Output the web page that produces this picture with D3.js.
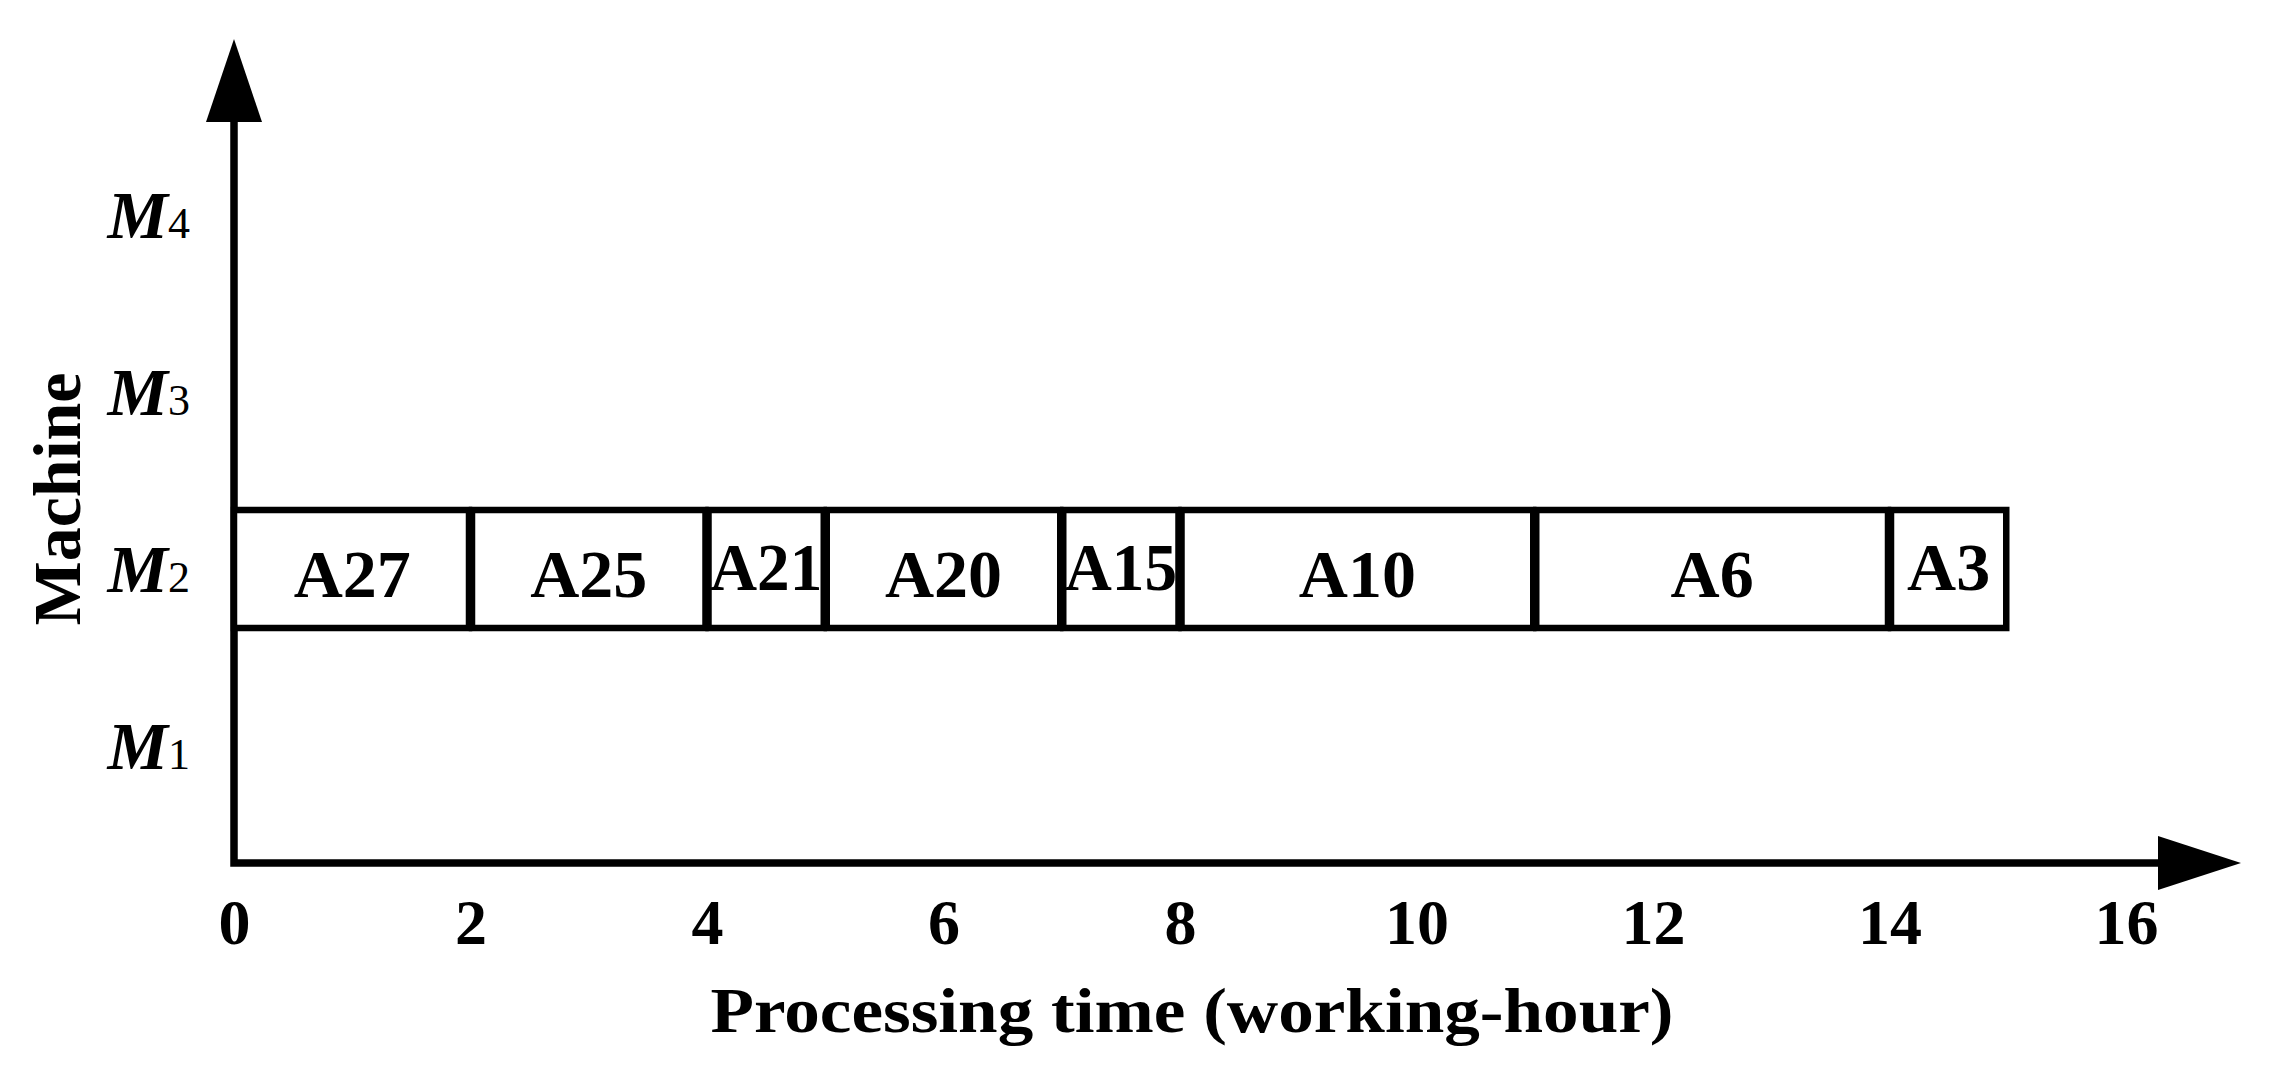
<!DOCTYPE html>
<html>
<head>
<meta charset="utf-8">
<script src="https://cdn.jsdelivr.net/npm/d3@7"></script>
<style>
  body { margin: 0; background: #fff; }
  svg { display: block; }
  text, tspan { font-family: "Liberation Serif", "Times New Roman", serif; fill: #000; }
</style>
</head>
<body>
<div id="chart"></div>
<script>
// data
let machines = ["M1", "M2", "M3", "M4"];
let jobs = ["A27", "A25", "A21", "A20", "A15", "A10", "A6", "A3"];
let jobMachine = ["M2", "M2", "M2", "M2", "M2", "M2", "M2", "M2"];
let jobStart = [0, 2, 4, 5, 7, 8, 11, 14];
let jobEnd = [2, 4, 5, 7, 8, 11, 14, 15];
let xTicks = [0, 2, 4, 6, 8, 10, 12, 14, 16];

let width = 2287,
    height = 1083;

let originY = 863;

let x = d3.scaleLinear().domain([0, 16]).range([234, 2126]);
let y = d3.scalePoint().domain(machines).range([746, 215]);

let barH = 118;

let svg = d3.select("#chart")
      .append("svg")
      .attr("width", width)
      .attr("height", height);

let tasks = jobs.map(function(d, i) {
  return { name: d, machine: jobMachine[i], start: jobStart[i], end: jobEnd[i] };
});

// axes lines + arrow heads
let originX = x(0);
let yTop = 122, yTip = 39;
let xRight = 2158, xTip = 2241;

svg.append("path")
    .attr("d", "M" + originX + "," + originY + "V" + yTop + "M" + originX + "," + originY + "H" + xRight)
    .style("fill", "none")
    .style("stroke", "#000")
    .style("stroke-width", 7.5)
    .style("stroke-linecap", "square");

svg.append("path")
    .attr("d", "M" + originX + "," + yTip + "L" + (originX - 28) + "," + yTop + "L" + (originX + 28) + "," + yTop + "Z")
    .style("fill", "#000");

svg.append("path")
    .attr("d", "M" + xTip + "," + originY + "L" + xRight + "," + (originY - 27) + "L" + xRight + "," + (originY + 27) + "Z")
    .style("fill", "#000");

// gantt boxes
let g = svg.selectAll(".task")
      .data(tasks)
      .enter().append("g")
      .attr("class", "task");

g.append("rect")
    .attr("x", function(d) { return x(d.start) + (d.start === 0 ? 0 : 1.5); })
    .attr("y", function(d) { return y(d.machine) - barH / 2; })
    .attr("width", function(d) { return x(d.end) - x(d.start) - (d.start === 0 ? 1.5 : 3); })
    .attr("height", barH)
    .style("fill", "#fff")
    .style("stroke", "#000")
    .style("stroke-width", 6.5);

g.append("text")
    .attr("x", function(d) { return (x(d.start) + x(d.end)) / 2; })
    .attr("y", function(d) { return y(d.machine) + (d.end - d.start === 1 ? 21 : 28); })
    .attr("text-anchor", "middle")
    .style("font-size", "68px")
    .style("font-weight", "bold")
    .text(function(d) { return d.name; })
    .each(function(d) {
      // squeeze labels that do not fit their box
      let w = x(d.end) - x(d.start) - 6;
      if (this.getComputedTextLength() > w) {
        d3.select(this).attr("textLength", w).attr("lengthAdjust", "spacingAndGlyphs");
      }
    });

// x tick labels
let xAxis = svg.append("g")
      .attr("transform", "translate(0," + 944 + ")")
      .call(d3.axisBottom(x).tickValues(xTicks).tickSize(0).tickFormat(d3.format("d")));
xAxis.select(".domain").remove();
xAxis.selectAll("text")
    .attr("y", 0)
    .attr("dy", 0)
    .attr("font-family", null)
    .style("font-size", "64px")
    .style("font-weight", "bold");

// y tick labels (M with subscript)
let yAxis = svg.append("g")
      .attr("transform", "translate(" + 190 + ",0)")
      .attr("font-family", null)
      .call(d3.axisLeft(y).tickSize(0).tickPadding(0));
yAxis.attr("font-family", null);
yAxis.select(".domain").remove();
yAxis.selectAll("text")
    .attr("x", 0)
    .attr("dy", 22)
    .attr("text-anchor", "end")
    .each(function(d) {
      let t = d3.select(this).text(null);
      t.append("tspan")
          .style("font-size", "68px")
          .style("font-style", "italic")
          .style("font-weight", "bold")
          .text(d.charAt(0));
      t.append("tspan")
          .style("font-size", "44px")
          .text(d.slice(1));
    });

// axis titles
svg.append("text")
    .attr("x", 1192)
    .attr("y", 1032)
    .attr("text-anchor", "middle")
    .attr("textLength", 963)
    .attr("lengthAdjust", "spacingAndGlyphs")
    .style("font-size", "64px")
    .style("font-weight", "bold")
    .text("Processing time (working-hour)");

svg.append("text")
    .attr("transform", "translate(80,499) rotate(-90)")
    .attr("text-anchor", "middle")
    .style("font-size", "68px")
    .style("font-weight", "bold")
    .text("Machine");
</script>
</body>
</html>
